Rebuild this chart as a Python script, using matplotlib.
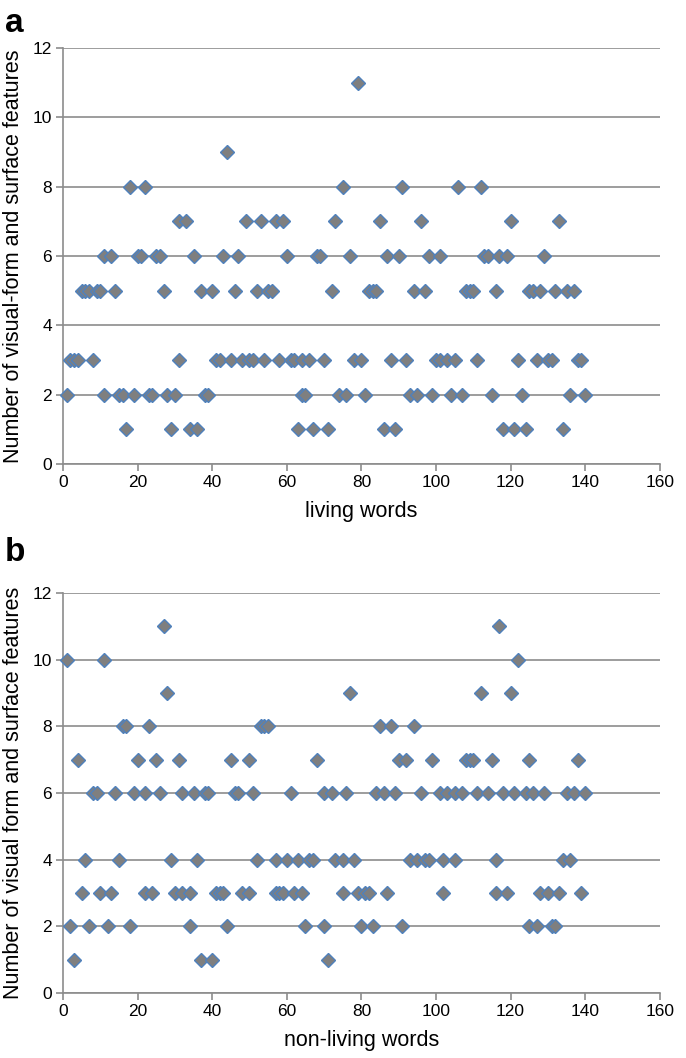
"""
Scatter of visual-form and surface feature counts per word,
living (a) vs non-living (b), Excel-like styling.
"""
import matplotlib
matplotlib.use("Agg")
import matplotlib.pyplot as plt

plt.rcParams["font.family"] = ["Liberation Sans", "DejaVu Sans"]

# Panel a: word index grouped by feature count
living_scores = [11, 9, 8, 7, 6, 5, 3, 2, 1]
living_words = [
    [79],
    [44],
    [18, 22, 75, 91, 106, 112],
    [31, 33, 49, 53, 57, 59, 73, 85, 96, 120, 133],
    [11, 13, 20, 21, 25, 26, 35, 43, 47, 60, 68, 69, 77, 87, 90, 98, 101,
     113, 114, 117, 119, 129],
    [5, 6, 7, 9, 10, 14, 27, 37, 40, 46, 52, 55, 56, 72, 82, 83, 84, 94, 97,
     108, 109, 110, 116, 125, 126, 128, 132, 135, 137],
    [2, 3, 4, 8, 31, 41, 42, 45, 48, 50, 51, 54, 58, 61, 62, 64, 66, 70, 78,
     80, 88, 92, 100, 101, 103, 105, 111, 122, 127, 130, 131, 138, 139],
    [1, 11, 15, 16, 19, 23, 24, 28, 30, 38, 39, 64, 65, 74, 76, 81, 93, 95,
     99, 104, 107, 115, 123, 136, 140],
    [17, 29, 34, 36, 63, 67, 71, 86, 89, 118, 121, 124, 134],
]

# Panel b
nonliving_scores = [11, 10, 9, 8, 7, 6, 4, 3, 2, 1]
nonliving_words = [
    [27, 117],
    [1, 11, 122],
    [28, 77, 112, 120],
    [16, 17, 23, 53, 54, 55, 85, 88, 94],
    [4, 20, 25, 31, 45, 50, 68, 90, 92, 99, 108, 109, 110, 115, 125, 138],
    [8, 9, 14, 19, 22, 26, 32, 35, 38, 39, 46, 47, 51, 61, 70, 72, 76, 84,
     86, 89, 96, 101, 103, 105, 107, 111, 114, 118, 121, 124, 126, 129, 135,
     137, 140],
    [6, 15, 29, 36, 52, 57, 60, 63, 66, 67, 73, 75, 78, 93, 95, 97, 98, 102,
     105, 116, 134, 136],
    [5, 10, 13, 22, 24, 30, 32, 34, 41, 42, 43, 48, 50, 57, 58, 59, 62, 64,
     75, 79, 81, 82, 87, 102, 116, 119, 128, 130, 133, 139],
    [2, 7, 12, 18, 34, 44, 65, 70, 80, 83, 91, 125, 127, 131, 132],
    [3, 37, 40, 71],
]

x_ticks = [0, 20, 40, 60, 80, 100, 120, 140, 160]
y_ticks = [0, 2, 4, 6, 8, 10, 12]

GRID = "#8c8c8c"
FACE = "#7f7f7f"
EDGE = "#4f81bd"


def draw_panel(ax, scores, words, xlabel, ylabel, xlabel_y):
    for s, xs in zip(scores, words):
        ax.plot(xs, [s] * len(xs), linestyle="none", marker="D",
                markersize=6.8, markerfacecolor=FACE, markeredgecolor=EDGE,
                markeredgewidth=1.0, zorder=3, clip_on=False)

    ax.set_xlim(0, 160)
    ax.set_ylim(0, 12)
    ax.set_xticks(x_ticks)
    ax.set_yticks(y_ticks)
    ax.yaxis.grid(True, color=GRID, linewidth=1.2)
    ax.set_axisbelow(True)

    for side in ("top", "right"):
        ax.spines[side].set_visible(False)
    for side in ("left", "bottom"):
        ax.spines[side].set_color(GRID)
        ax.spines[side].set_linewidth(1.2)

    ax.tick_params(axis="both", direction="out", length=5, width=1.2,
                   color=GRID, labelsize=12.5, labelcolor="black", pad=3)
    ax.set_xlabel(xlabel, fontsize=15.5, va="top")
    ax.set_ylabel(ylabel, fontsize=15.5)
    ax.xaxis.set_label_coords(0.5, xlabel_y)
    ax.yaxis.set_label_coords(-0.066, 0.5)


fig = plt.figure(figsize=(6.86, 10.58), dpi=100)
ax_a = fig.add_axes([0.0918, 0.5614, 0.870, 0.3932])
ax_b = fig.add_axes([0.0918, 0.0614, 0.870, 0.3781])

draw_panel(ax_a, living_scores, living_words, "living words",
           "Number of visual-form and surface features", -0.089)
draw_panel(ax_b, nonliving_scores, nonliving_words, "non-living words",
           "Number of visual form and surface features", -0.093)

# panel letters
fig.text(5 / 686, 1 - 32 / 1058, "a", fontsize=24, fontweight="bold",
         ha="left", va="baseline")
fig.text(5 / 686, 1 - 561 / 1058, "b", fontsize=24, fontweight="bold",
         ha="left", va="baseline")

fig.savefig("out.png", dpi=100, facecolor="white")
plt.close(fig)
